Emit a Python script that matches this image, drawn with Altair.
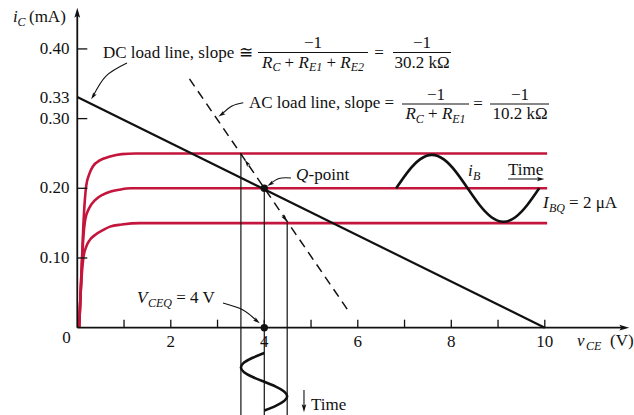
import altair as alt
import pandas as pd

RED = "#c4163c"
INK = "#111111"
SERIF = "Liberation Serif"

# plotting window: v_CE in volts, i_C in milliamps
V_RANGE = [-1.653, 11.908]
I_RANGE = [-0.1253, 0.4702]

# transistor output characteristics for three base-current levels
curve_top_v = [0.04, 0.09, 0.14, 0.19, 0.26, 0.34, 0.48, 0.70, 0.95, 1.25, 10.05]
curve_top_i = [0.0, 0.08, 0.16, 0.203, 0.221, 0.232, 0.240, 0.2455, 0.249, 0.25, 0.25]
curve_mid_v = [0.04, 0.09, 0.13, 0.17, 0.25, 0.38, 0.55, 0.70, 0.90, 1.15, 10.05]
curve_mid_i = [0.0, 0.08, 0.13, 0.155, 0.171, 0.183, 0.191, 0.195, 0.198, 0.2, 0.2]
curve_low_v = [0.04, 0.09, 0.13, 0.19, 0.27, 0.38, 0.55, 0.70, 0.95, 1.35, 10.05]
curve_low_i = [0.0, 0.07, 0.10, 0.116, 0.126, 0.133, 0.140, 0.145, 0.148, 0.15, 0.15]

# DC and AC load lines
dc_v = [0.0, 10.0]
dc_i = [0.331, 0.0]
ac_v = [2.40, 5.80]
ac_i = [0.357, 0.024]

# quiescent point
q_v = [4.0]
q_i = [0.2]

# projections of the signal swing down to the v_CE axis
guide_v = [3.50, 4.00, 4.49]
guide_top = [0.25, 0.20, 0.15]

# base-current signal drawn around I_BQ
ib_v = [6.82, 7.075, 7.33, 7.585, 7.84, 8.095, 8.35, 8.605, 8.86, 9.115, 9.37, 9.625, 9.88]
ib_i = [0.200, 0.224, 0.2415, 0.248, 0.2415, 0.224, 0.200, 0.176, 0.1585, 0.152, 0.1585, 0.176, 0.200]

# resulting collector-emitter voltage swing (time runs downward)
vce_v = [4.0, 3.75, 3.567, 3.5, 3.567, 3.75, 4.0, 4.245, 4.424, 4.49, 4.424, 4.245, 4.0]
vce_i = [-0.0363, -0.0432, -0.0501, -0.0570, -0.0639, -0.0708, -0.0777,
         -0.0846, -0.0915, -0.0984, -0.1053, -0.1122, -0.1190]

# axis ticks and labels
y_tick_vals = [0.10, 0.20, 0.30, 0.40]
y_label_vals = [0.10, 0.20, 0.30, 0.33, 0.40]
y_label_text = ["0.10", "0.20", "0.30", "0.33", "0.40"]
x_tick_vals = [1, 2, 3, 4, 5, 6, 7, 8, 9, 10]
x_label_vals = [2, 4, 6, 8, 10]
x_label_text = ["2", "4", "6", "8", "10"]

ARROW = "M0,-1L0.55,0.9L0,0.5L-0.55,0.9Z"


def X(field="v"):
    return alt.X(f"{field}:Q", scale=alt.Scale(domain=V_RANGE, nice=False, zero=False), axis=None)


def Y(field="i"):
    return alt.Y(f"{field}:Q", scale=alt.Scale(domain=I_RANGE, nice=False, zero=False), axis=None)


layers = []

# --- characteristic curves ---
curves = pd.concat([
    pd.DataFrame({"v": curve_top_v, "i": curve_top_i, "c": "top"}),
    pd.DataFrame({"v": curve_mid_v, "i": curve_mid_i, "c": "mid"}),
    pd.DataFrame({"v": curve_low_v, "i": curve_low_i, "c": "low"}),
])
layers.append(alt.Chart(curves).mark_line(color=RED, strokeWidth=2.6, interpolate="monotone")
              .encode(x=X(), y=Y(), detail="c:N"))

# --- projection guides ---
guides = pd.DataFrame({"v": guide_v, "i": guide_top, "i2": [I_RANGE[0]] * len(guide_v)})
layers.append(alt.Chart(guides).mark_rule(color=INK, strokeWidth=1.2)
              .encode(x=X(), y=Y(), y2="i2:Q"))

# --- axes with arrows and inward ticks ---
axes = pd.DataFrame({"v": [0.0, 0.0], "i": [0.0, 0.0], "v2": [0.0, 11.694], "i2": [0.4515, 0.0]})
layers.append(alt.Chart(axes).mark_rule(color=INK, strokeWidth=1.8)
              .encode(x=X(), y=Y(), x2="v2:Q", y2="i2:Q"))
yt = pd.DataFrame({"v": 0.0, "v2": 0.214, "i": y_tick_vals})
layers.append(alt.Chart(yt).mark_rule(color=INK, strokeWidth=1.3)
              .encode(x=X(), x2="v2:Q", y=Y()))
xt = pd.DataFrame({"v": x_tick_vals, "i": 0.0, "i2": 0.0115})
layers.append(alt.Chart(xt).mark_rule(color=INK, strokeWidth=1.3)
              .encode(x=X(), y=Y(), y2="i2:Q"))

# --- load lines ---
layers.append(alt.Chart(pd.DataFrame({"v": dc_v, "i": dc_i})).mark_line(color=INK, strokeWidth=2.2)
              .encode(x=X(), y=Y()))
layers.append(alt.Chart(pd.DataFrame({"v": ac_v, "i": ac_i}))
              .mark_line(color=INK, strokeWidth=1.5, strokeDash=[9, 6]).encode(x=X(), y=Y()))

# --- signal waveforms ---
layers.append(alt.Chart(pd.DataFrame({"v": ib_v, "i": ib_i}))
              .mark_line(color=INK, strokeWidth=2.6, interpolate="natural").encode(x=X(), y=Y()))
layers.append(alt.Chart(pd.DataFrame({"v": vce_v, "i": vce_i, "k": range(len(vce_v))}))
              .mark_line(color=INK, strokeWidth=2.6, interpolate="natural")
              .encode(x=X(), y=Y(), order="k:Q"))

# --- annotation leader curves ---
leaders = pd.DataFrame({
    "g": ["dc"] * 3 + ["ac"] * 3 + ["q"] * 3 + ["vq"] * 3 + ["t1"] * 2 + ["t2"] * 2,
    "k": [0, 1, 2] * 4 + [0, 1, 0, 1],
    "v": [1.063, 0.614, 0.340, 3.551, 3.309, 3.087, 4.571, 4.314, 4.131, 3.117, 3.544, 3.842,
          9.214, 9.908, 4.849, 4.849],
    "i": [0.3798, 0.3611, 0.3323, 0.3228, 0.3181, 0.3060, 0.2148, 0.2141, 0.2063, 0.0354, 0.0255, 0.0096,
          0.2133, 0.2133, -0.0894, -0.1152],
})
layers.append(alt.Chart(leaders).mark_line(color=INK, strokeWidth=1.1, interpolate="natural")
              .encode(x=X(), y=Y(), detail="g:N", order="k:Q"))

# --- arrowheads ---
heads = pd.DataFrame({
    "v": [0.0, 11.694, 0.340, 3.087, 4.131, 3.842, 9.908, 4.849, 3.63, 4.44],
    "i": [0.4515, 0.0, 0.3323, 0.3060, 0.2063, 0.0096, 0.2133, -0.1152, 0.2363, 0.1569],
    "ang": [0, 90, 213, 235, 238, 128, 90, 180, 325.6, 145.6],
    "sz": [110, 110, 55, 55, 55, 55, 60, 70, 55, 55],
})
layers.append(alt.Chart(heads).mark_point(shape=ARROW, filled=True, color=INK, opacity=1, strokeWidth=0)
              .encode(x=X(), y=Y(), angle=alt.Angle("ang:Q", scale=None), size=alt.Size("sz:Q", scale=None)))

# --- Q point and its projection on the axis ---
dots = pd.DataFrame({"v": q_v + q_v, "i": q_i + [0.0]})
layers.append(alt.Chart(dots).mark_circle(color=INK, size=55, opacity=1).encode(x=X(), y=Y()))

# --- fraction bars of the slope expressions ---
bars = pd.DataFrame({
    "v": [3.865, 6.753, 6.946, 8.828],
    "v2": [6.218, 7.993, 8.379, 10.09],
    "i": [0.3948, 0.3948, 0.3210, 0.3210],
})
layers.append(alt.Chart(bars).mark_rule(color=INK, strokeWidth=1.1).encode(x=X(), x2="v2:Q", y=Y()))


def text_layer(rows, size, italic=False, align="left"):
    df = pd.DataFrame(rows, columns=["t", "v", "i"])
    return (alt.Chart(df)
            .mark_text(font=SERIF, fontSize=size, fontStyle="italic" if italic else "normal",
                       align=align, baseline="middle", color=INK)
            .encode(x=X(), y=Y(), text="t:N"))


# heights of the fraction rows
DC_NUM, DC_DEN, DC_SUB = 0.4084, 0.3797, 0.3740
AC_NUM, AC_DEN, AC_SUB = 0.3345, 0.3066, 0.3001

roman_left = [
    ("(mA)", -1.033, 0.4458),
    ("(V)", 11.394, -0.0191),
    ("DC load line, slope \u2245", 0.550, 0.3948),
    ("AC load line, slope =", 3.673, 0.3217),
    ("+", 4.434, DC_DEN), ("+", 5.330, DC_DEN), ("+", 7.502, AC_DEN),
    ("= 4 V", 2.117, 0.0426),
    ("-point", 4.946, 0.2191),
    ("= 2 \u03bcA", 10.52, 0.1789),
    ("Time", 9.214, 0.2263),
    ("Time", 4.999, -0.1116),
]
roman_center = [
    ("\u22121", 5.042, DC_NUM), ("\u22121", 7.373, DC_NUM),
    ("\u22121", 7.672, AC_NUM), ("\u22121", 9.469, AC_NUM),
    ("=", 6.454, 0.3948), ("=", 8.571, 0.3210),
    ("30.2 k\u03a9", 7.373, DC_DEN), ("10.2 k\u03a9", 9.469, AC_DEN),
    ("0", -0.231, -0.0148),
] + [(t, v, -0.0212) for t, v in zip(x_label_text, x_label_vals)]
roman_right = [(t, -0.167, v) for t, v in zip(y_label_text, y_label_vals)]
italic_main = [
    ("i", -1.375, 0.4458),
    ("v", 10.689, -0.0191),
    ("R", 3.951, DC_DEN), ("R", 4.732, DC_DEN), ("R", 5.626, DC_DEN),
    ("R", 7.018, AC_DEN), ("R", 7.799, AC_DEN),
    ("V", 1.277, 0.0426),
    ("Q", 4.678, 0.2191),
    ("I", 9.962, 0.1789),
    ("i", 8.357, 0.2248),
]
italic_sub = [
    ("C", -1.279, 0.4386),
    ("CE", 10.882, -0.0263),
    ("C", 4.173, DC_SUB), ("E1", 4.954, DC_SUB), ("E2", 5.848, DC_SUB),
    ("C", 7.241, AC_SUB), ("E1", 8.021, AC_SUB),
    ("CEQ", 1.512, 0.0354),
    ("BQ", 10.09, 0.1717),
    ("B", 8.465, 0.2177),
]

layers += [
    text_layer(roman_left, 17),
    text_layer(roman_center, 17, align="center"),
    text_layer(roman_right, 17, align="right"),
    text_layer(italic_main, 17, italic=True),
    text_layer(italic_sub, 12, italic=True),
]

chart = (alt.layer(*layers)
         .properties(width=634, height=415, padding=0, autosize=alt.AutoSizeParams(type="none"),
                     background="white")
         .configure_view(stroke=None))

chart.save("out.html", embed_options={"renderer": "svg", "actions": False})
